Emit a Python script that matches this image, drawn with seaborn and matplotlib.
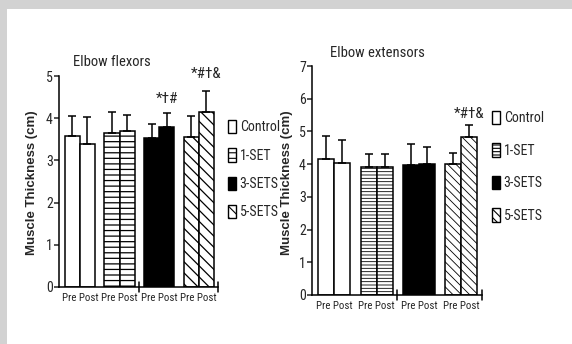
import matplotlib
matplotlib.use("Agg")
import matplotlib.pyplot as plt
import matplotlib.patches as mpatches
import matplotlib.font_manager as fm
import seaborn as sns
import pandas as pd
import numpy as np

# ---- data ----
groups = ["Control", "1-SET", "3-SETS", "5-SETS"]
times = ["Pre", "Post"]

flex_pre = [3.58, 3.65, 3.52, 3.55]
flex_post = [3.40, 3.70, 3.80, 4.15]
flex_pre_sd = [0.48, 0.50, 0.35, 0.50]
flex_post_sd = [0.62, 0.38, 0.33, 0.50]

ext_pre = [4.15, 3.90, 3.97, 4.00]
ext_post = [4.03, 3.92, 4.00, 4.82]
ext_pre_sd = [0.72, 0.40, 0.66, 0.33]
ext_post_sd = [0.70, 0.38, 0.52, 0.38]

flex_sig_labels = ["*\u2020#", "*#\u2020&"]
flex_sig_groups = ["3-SETS", "5-SETS"]
flex_sig_y = [4.30, 4.88]
ext_sig_labels = ["*#\u2020&"]
ext_sig_groups = ["5-SETS"]
ext_sig_y = [5.33]

sns.set_style("white")
plt.rcParams["hatch.linewidth"] = 0.8


# ---- pick a narrow font if one is installed ----
def _is_condensed(st):
    s = str(st).lower()
    if "condensed" in s:
        return True
    try:
        return int(st) < 500
    except Exception:
        return False


def pick_narrow():
    entries = fm.fontManager.ttflist
    names = {f.name for f in entries}
    for nm in ["Liberation Sans Narrow", "Arial Narrow", "Roboto Condensed",
               "Open Sans Condensed"]:
        if nm in names:
            return nm, "normal"
    for nm in ["Noto Sans", "DejaVu Sans", "Open Sans", "Roboto", "Inter"]:
        for f in entries:
            if f.name == nm and _is_condensed(f.stretch) and f.weight in (400, "normal", "regular"):
                return nm, "condensed"
    return "Liberation Sans", "normal"


NARROW, STRETCH = pick_narrow()


def nfont(size, weight="normal"):
    return fm.FontProperties(family=[NARROW, "DejaVu Sans"], stretch=STRETCH,
                             size=size, weight=weight)


fig = plt.figure(figsize=(5.72, 3.44), dpi=100)
# gray frame (top and left)
fig.patches.append(mpatches.Rectangle((0, 1 - 9 / 344), 1, 9 / 344, transform=fig.transFigure,
                                      facecolor="#d2d2d2", edgecolor="none", zorder=0))
fig.patches.append(mpatches.Rectangle((0, 0), 7 / 572, 1, transform=fig.transFigure,
                                      facecolor="#d2d2d2", edgecolor="none", zorder=0))

face = {"Control": "white", "1-SET": "white", "3-SETS": "black", "5-SETS": "white"}
hatch_char = {"Control": None, "1-SET": "-", "3-SETS": None, "5-SETS": "\\"}


def panel(rect, pre, post, pre_sd, post_sd, ymax, title, title_xy, ylab_x,
          sig_labels, sig_groups, sig_y, leg_xy, hatch_n, hatch_lw, leg_spacing):
    ax = fig.add_axes(rect)
    df = pd.DataFrame({
        "group": groups * 2,
        "time": ["Pre"] * 4 + ["Post"] * 4,
        "value": pre + post,
    })
    sds = {"Pre": pre_sd, "Post": post_sd}

    def hatch_of(g):
        c = hatch_char[g]
        return c * hatch_n[g] if c else None

    sns.barplot(data=df, x="group", y="value", hue="time", order=groups,
                hue_order=times, width=0.76, errorbar=None, legend=False,
                palette=["white", "white"], edgecolor="black", linewidth=1.1,
                ax=ax, zorder=2)
    bar_pos = {}
    bar_conts = list(ax.containers)
    for j, cont in enumerate(bar_conts):
        t = times[j]
        for i, p in enumerate(cont.patches):
            g = groups[i]
            p.set_facecolor(face[g])
            if hatch_of(g):
                p.set_hatch(hatch_of(g))
                if hasattr(p, "set_hatch_linewidth"):
                    p.set_hatch_linewidth(hatch_lw)
            xc = p.get_x() + p.get_width() / 2
            h = p.get_height()
            bar_pos[(g, t)] = xc
            ax.errorbar(xc, h, yerr=[[0], [sds[t][i]]], fmt="none",
                        ecolor="black", elinewidth=1.1, capsize=2.6,
                        capthick=1.1, zorder=3)
    # one "Pre Post" label under each group (category positions)
    ax.set_xticks(range(len(groups)))
    ax.set_xticklabels([" ".join(times)] * len(groups), fontproperties=nfont(7.8))
    ax.tick_params(axis="x", length=0, pad=4)
    ax.set_xlim(-0.53, 3.49)
    ax.set_ylim(0, ymax)
    ax.set_yticks(range(0, ymax + 1))
    ax.set_yticklabels([str(v) for v in range(0, ymax + 1)], fontproperties=nfont(10))
    ax.tick_params(axis="y", length=3.5, width=1.1, direction="out", pad=1, left=True)
    ax.set_xlabel("")
    ax.set_ylabel("")
    for s in ["top", "right"]:
        ax.spines[s].set_visible(False)
    for s in ["left", "bottom"]:
        ax.spines[s].set_linewidth(1.1)
        ax.spines[s].set_color("black")
    # axis break markers
    tr = ax.get_xaxis_transform()
    for xm in [1.49, 3.49]:
        ax.plot([xm, xm], [-0.022, 0.022], color="black", lw=1.1,
                transform=tr, clip_on=False)
    # significance labels
    for lab, g, yv in zip(sig_labels, sig_groups, sig_y):
        ax.text(bar_pos[(g, "Post")], yv, lab, ha="center", va="bottom",
                fontproperties=nfont(11))
    fig.text(title_xy[0], title_xy[1], title, fontproperties=nfont(10.5),
             ha="left", va="center")
    fig.text(ylab_x, 0.468, "Muscle Thickness (cm)", rotation=90,
             family=["Liberation Sans", "DejaVu Sans"], fontweight="bold",
             fontsize=9.5, ha="center", va="center")
    handles = []
    for g in groups:
        hp = mpatches.Patch(facecolor=face[g], edgecolor="black", linewidth=1.0,
                            hatch=hatch_of(g), label=g)
        handles.append(hp)
    fig.legend(handles=handles, loc="upper left", bbox_to_anchor=leg_xy,
               bbox_transform=fig.transFigure, frameon=False,
               prop=nfont(10), handlelength=0.6,
               handleheight=1.1, handletextpad=0.25, labelspacing=leg_spacing,
               borderpad=0, borderaxespad=0)
    return ax


panel([59 / 572, 1 - 287 / 344, (218 - 59) / 572, (287 - 76) / 344],
      flex_pre, flex_post, flex_pre_sd, flex_post_sd, 5, "Elbow flexors",
      (73 / 572, 1 - 62 / 344), 32 / 572,
      flex_sig_labels, flex_sig_groups, flex_sig_y, (228 / 572, 1 - 120 / 344),
      {"1-SET": 3, "5-SETS": 3}, 0.9, 1.0)
panel([312 / 572, 1 - 295 / 344, (482 - 312) / 572, (295 - 66) / 344],
      ext_pre, ext_post, ext_pre_sd, ext_post_sd, 7, "Elbow extensors",
      (330 / 572, 1 - 53 / 344), 287 / 572,
      ext_sig_labels, ext_sig_groups, ext_sig_y, (492 / 572, 1 - 111 / 344),
      {"1-SET": 5, "5-SETS": 4}, 0.6, 1.3)

fig.savefig("out.png", dpi=100)
